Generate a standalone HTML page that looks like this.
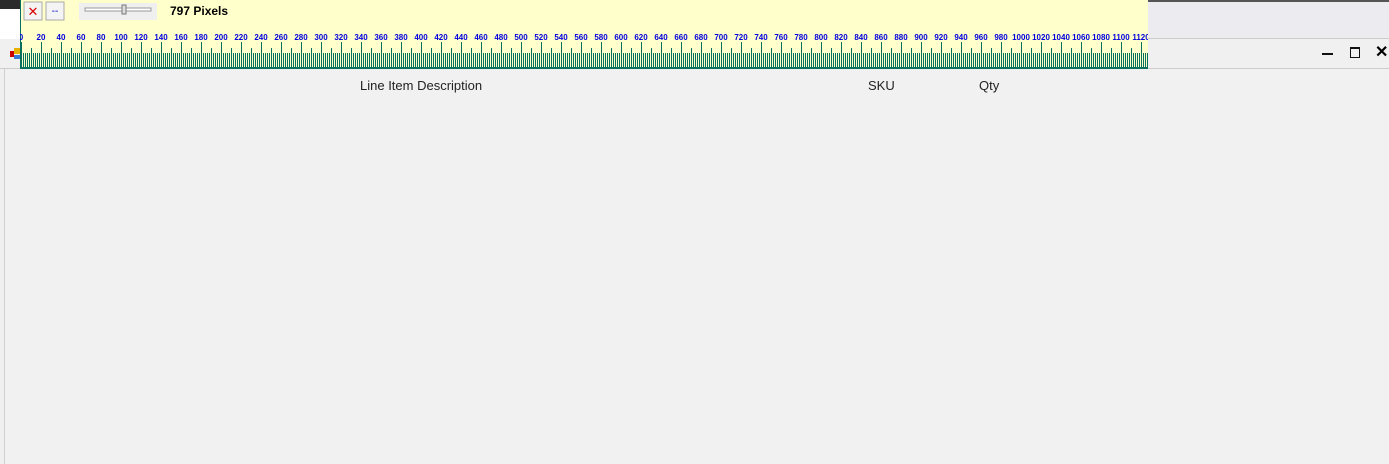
<!DOCTYPE html>
<html><head><meta charset="utf-8"><style>
html,body{margin:0;padding:0;width:1389px;height:464px;overflow:hidden;background:#f0f0f0;font-family:"Liberation Sans",sans-serif;position:relative}
.a{position:absolute}
</style></head><body>
<div class="a" style="left:0;top:0;width:20px;height:9px;background:#2b2b2b"></div>
<div class="a" style="left:0;top:9px;width:20px;height:30px;background:#fff"></div>
<div class="a" style="left:1148px;top:0;width:241px;height:2px;background:#555"></div>
<div class="a" style="left:1148px;top:2px;width:241px;height:37px;background:#ececf0"></div>
<div class="a" style="left:1148px;top:38px;width:241px;height:1px;background:#ccc"></div>
<div class="a" style="left:0;top:39px;width:1389px;height:29px;background:#f0f0f0"></div>
<div class="a" style="left:8px;top:48px;width:12px;height:12px;"><div class="a" style="left:2px;top:3px;width:4px;height:6px;background:#c00"></div><div class="a" style="left:6px;top:0;width:6px;height:6px;background:#e8b000"></div><div class="a" style="left:6px;top:7px;width:6px;height:4px;background:#3a7bd5"></div></div>
<div class="a" style="left:1322px;top:53px;width:11px;height:2px;background:#111"></div>
<div class="a" style="left:1350px;top:47px;width:8px;height:8px;border:1px solid #111;border-top-width:2px"></div>
<div class="a" style="left:1375px;top:42px;font-size:16px;font-weight:bold;color:#000">✕</div>
<div class="a" style="left:0;top:68px;width:1389px;height:1px;background:#ccc"></div>
<div class="a" style="left:4px;top:69px;width:1385px;height:395px;border-left:1px solid #d0d0d0;background:#f1f1f1"></div>
<div class="a" style="left:360px;top:78px;font-size:13px;color:#222">Line Item Description</div>
<div class="a" style="left:868px;top:78px;font-size:13px;color:#222">SKU</div>
<div class="a" style="left:979px;top:78px;font-size:13px;color:#222">Qty</div>

<svg class="a" style="left:20px;top:0" width="1128" height="69" xmlns="http://www.w3.org/2000/svg" shape-rendering="crispEdges">
<defs>
<pattern id="m" x="0" y="0" width="2" height="69" patternUnits="userSpaceOnUse"><rect x="1" y="53" width="1" height="16" fill="#08705f"/></pattern>
<pattern id="t" x="0" y="0" width="10" height="69" patternUnits="userSpaceOnUse"><rect x="1" y="48" width="1" height="21" fill="#08705f"/></pattern>
<pattern id="l" x="0" y="0" width="20" height="69" patternUnits="userSpaceOnUse"><rect x="1" y="42" width="1" height="27" fill="#08705f"/></pattern>
</defs>
<rect width="1128" height="69" fill="#ffffcc"/>
<rect width="1128" height="69" fill="url(#m)"/>
<rect width="1128" height="69" fill="url(#t)"/>
<rect width="1128" height="69" fill="url(#l)"/>
<rect x="0" y="67" width="1128" height="2" fill="#08705f"/>
<rect x="0" y="0" width="1" height="69" fill="#08705f"/>
<rect x="4" y="2" width="18" height="18" fill="#f4f4f4" stroke="#aaa"/>
<text x="13" y="16" font-size="13" fill="#d00" text-anchor="middle" font-family="Liberation Sans">✕</text>
<rect x="26" y="2" width="18" height="18" fill="#f4f4f4" stroke="#aaa"/>
<text x="35" y="14" font-size="10" fill="#00c" text-anchor="middle" font-family="Liberation Sans">--</text>
<rect x="59" y="3" width="78" height="17" fill="#efefef"/>
<rect x="65" y="8" width="66" height="3" fill="#fff" stroke="#999" stroke-width="0.7"/>
<rect x="102" y="5" width="4" height="9" fill="#ddd" stroke="#777" stroke-width="0.8"/>
<text x="150" y="15" font-size="12" font-weight="bold" fill="#000" font-family="Liberation Sans">797 Pixels</text>
<g font-size="8" font-weight="bold" fill="#0000dd" text-anchor="middle" font-family="Liberation Sans">
<text x="1" y="40">0</text><text x="21" y="40">20</text><text x="41" y="40">40</text><text x="61" y="40">60</text><text x="81" y="40">80</text><text x="101" y="40">100</text><text x="121" y="40">120</text><text x="141" y="40">140</text><text x="161" y="40">160</text><text x="181" y="40">180</text><text x="201" y="40">200</text><text x="221" y="40">220</text><text x="241" y="40">240</text><text x="261" y="40">260</text><text x="281" y="40">280</text><text x="301" y="40">300</text><text x="321" y="40">320</text><text x="341" y="40">340</text><text x="361" y="40">360</text><text x="381" y="40">380</text><text x="401" y="40">400</text><text x="421" y="40">420</text><text x="441" y="40">440</text><text x="461" y="40">460</text><text x="481" y="40">480</text><text x="501" y="40">500</text><text x="521" y="40">520</text><text x="541" y="40">540</text><text x="561" y="40">560</text><text x="581" y="40">580</text><text x="601" y="40">600</text><text x="621" y="40">620</text><text x="641" y="40">640</text><text x="661" y="40">660</text><text x="681" y="40">680</text><text x="701" y="40">700</text><text x="721" y="40">720</text><text x="741" y="40">740</text><text x="761" y="40">760</text><text x="781" y="40">780</text><text x="801" y="40">800</text><text x="821" y="40">820</text><text x="841" y="40">840</text><text x="861" y="40">860</text><text x="881" y="40">880</text><text x="901" y="40">900</text><text x="921" y="40">920</text><text x="941" y="40">940</text><text x="961" y="40">960</text><text x="981" y="40">980</text><text x="1001" y="40">1000</text><text x="1021" y="40">1020</text><text x="1041" y="40">1040</text><text x="1061" y="40">1060</text><text x="1081" y="40">1080</text><text x="1101" y="40">1100</text><text x="1121" y="40">1120</text>
</g>
</svg>
</body></html>
